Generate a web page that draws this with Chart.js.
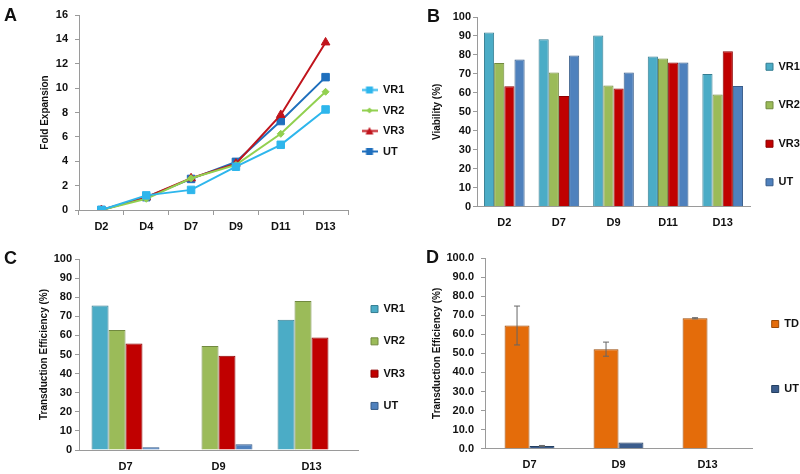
<!DOCTYPE html>
<html>
<head>
<meta charset="utf-8">
<script src="https://cdn.jsdelivr.net/npm/chart.js@4.4.0/dist/chart.umd.min.js"></script>
<style>
  body { margin: 0; background: #fff; }
  #wrap { position: relative; width: 800px; height: 474px; overflow: hidden; }
  canvas { position: absolute; }
  .tag { position: absolute; font: bold 18px 'Liberation Sans', Arial, sans-serif; color: #111; line-height: 18px; }
</style>
</head>
<body>
<div id="wrap">
  <canvas id="chartA" width="410" height="240" style="left:0;top:0"></canvas>
  <canvas id="chartB" width="400" height="240" style="left:400px;top:0"></canvas>
  <canvas id="chartC" width="410" height="239" style="left:0;top:235px"></canvas>
  <canvas id="chartD" width="400" height="239" style="left:400px;top:235px"></canvas>
  <div class="tag" style="left:4px;top:6px">A</div>
  <div class="tag" style="left:427px;top:7px">B</div>
  <div class="tag" style="left:4px;top:249px">C</div>
  <div class="tag" style="left:426px;top:248px">D</div>
</div>
<script>
// A - fold expansion
const daysA = ['D2', 'D4', 'D7', 'D9', 'D11', 'D13'];
const vr1Fold = [0, 1.2, 1.65, 3.55, 5.35, 8.25];
const vr2Fold = [0, 0.92, 2.6, 3.7, 6.25, 9.7];
const vr3Fold = [0, 1.05, 2.6, 3.8, 7.8, 13.75];
const utFold = [0, 1.05, 2.55, 3.95, 7.3, 10.9];

// B - viability
const daysB = ['D2', 'D7', 'D9', 'D11', 'D13'];
const vr1Via = [91.8, 88.3, 90.2, 79.2, 70];
const vr2Via = [75.8, 70.7, 63.9, 78.1, 59.2];
const vr3Via = [63.5, 58.4, 62.3, 76, 82];
const utVia = [77.6, 79.7, 70.7, 76, 63.6];

// C - transduction efficiency per run
const daysC = ['D7', 'D9', 'D13'];
const vr1Td = [75.7, null, 68.2];
const vr2Td = [62.8, 54.5, 78];
const vr3Td = [55.8, 49.3, 58.9];
const utTd = [1.4, 3, 0.3];

// D - mean transduction efficiency
const daysD = ['D7', 'D9', 'D13'];
const tdMean = [64.6, 52.2, 68.4];
const tdErr = [10.2, 3.7, 0.3];
const utMean = [1.4, 3.3, 0.3];
const utErr = [0.3, 0, 0];

const axisGray = '#9a9a9a';
Chart.defaults.font.family = "'Liberation Sans', Arial, sans-serif";
Chart.defaults.font.size = 11;
Chart.defaults.font.weight = 'bold';
Chart.defaults.color = '#111';

// move the legend block after layout (label padding also sets the row gap)
const nudge = {
  id: 'nudge',
  afterLayout(chart, args, opts) {
    const lg = chart.legend;
    lg.left += opts.dx || 0;
    lg.right = chart.width; // legend clips to its box, keep the text inside
    lg.top += opts.dy || 0; lg.bottom += opts.dy || 0;
  }
};

const errorBars = {
  id: 'errorBars',
  afterDatasetsDraw(chart) {
    const ctx = chart.ctx;
    const y = chart.scales.y;
    chart.data.datasets.forEach((ds, i) => {
      if (!ds.errors) return;
      chart.getDatasetMeta(i).data.forEach((bar, j) => {
        const e = ds.errors[j];
        if (!e) return;
        const top = y.getPixelForValue(ds.data[j] + e);
        const bot = y.getPixelForValue(ds.data[j] - e);
        ctx.save();
        ctx.strokeStyle = '#666';
        ctx.lineWidth = 1;
        ctx.beginPath();
        ctx.moveTo(bar.x, top); ctx.lineTo(bar.x, bot);
        ctx.moveTo(bar.x - 3, top); ctx.lineTo(bar.x + 3, top);
        ctx.moveTo(bar.x - 3, bot); ctx.lineTo(bar.x + 3, bot);
        ctx.stroke();
        ctx.restore();
      });
    });
  }
};

function yScale(title, max, step, width, pad, fmt) {
  const ticks = { stepSize: step, padding: pad };
  if (fmt) ticks.callback = fmt;
  return {
    min: 0, max: max,
    ticks: ticks,
    grid: { drawOnChartArea: false, tickLength: 4, color: axisGray },
    border: { color: axisGray },
    title: { display: true, text: title, font: { size: 10, weight: 'bold' }, padding: 0 },
    afterFit: s => { s.width = width; }
  };
}

function xScale(height, pad, marks) {
  return {
    offset: true,
    grid: { display: marks, drawOnChartArea: false, drawTicks: marks, tickLength: 5, offset: true, color: axisGray },
    border: { color: axisGray },
    ticks: { padding: pad, maxRotation: 0 },
    afterFit: s => { s.height = height; }
  };
}

function legendOpts(spacing, extra) {
  return {
    position: 'right',
    maxWidth: 30,
    labels: Object.assign({ padding: spacing - 11, boxWidth: 7, boxHeight: 7, color: '#111' }, extra || {})
  };
}

function lineIcon(color, shape) {
  const c = document.createElement('canvas');
  c.width = 16; c.height = 9;
  const g = c.getContext('2d');
  g.strokeStyle = color; g.fillStyle = color; g.lineWidth = 2;
  g.beginPath(); g.moveTo(0, 4.5); g.lineTo(16, 4.5); g.stroke();
  g.beginPath();
  if (shape === 'rect') g.rect(4.5, 1, 7, 7);
  else if (shape === 'rectRot') { g.moveTo(8, 1.5); g.lineTo(11, 4.5); g.lineTo(8, 7.5); g.lineTo(5, 4.5); g.closePath(); }
  else { g.moveTo(8, 0.5); g.lineTo(12, 8); g.lineTo(4, 8); g.closePath(); }
  g.fill();
  return c;
}

// A
const lineSets = [
  { label: 'VR1', data: vr1Fold, color: '#2eb6ec', shape: 'rect', r: 5.3 },
  { label: 'VR2', data: vr2Fold, color: '#92d050', shape: 'rectRot', r: 3.5 },
  { label: 'VR3', data: vr3Fold, color: '#c0141c', shape: 'triangle', r: 5 },
  { label: 'UT', data: utFold, color: '#1f6fbd', shape: 'rect', r: 5.3 }
];
const lineIcons = lineSets.map(s => lineIcon(s.color, s.shape));

new Chart(document.getElementById('chartA'), {
  type: 'line',
  data: {
    labels: daysA,
    datasets: lineSets.map(s => ({
      label: s.label, data: s.data,
      borderColor: s.color, backgroundColor: s.color,
      borderWidth: 2, pointStyle: s.shape, pointRadius: s.r,
      pointBackgroundColor: s.color, pointBorderColor: s.color, pointBorderWidth: 1
    }))
  },
  options: {
    responsive: false,
    animation: false,
    layout: { padding: { left: 39, top: 15, right: 32, bottom: 0 } },
    scales: {
      x: xScale(30, 5, true),
      y: yScale('Fold Expansion', 16, 2, 40, 7)
    },
    plugins: {
      legend: legendOpts(20.5, {
        usePointStyle: true,
        pointStyleWidth: 16,
        generateLabels: chart => {
          const items = Chart.defaults.plugins.legend.labels.generateLabels(chart);
          items.forEach((it, i) => { it.pointStyle = lineIcons[i]; });
          return items;
        }
      }),
      tooltip: { enabled: false },
      nudge: { dx: 4, dy: -6.75 }
    }
  },
  plugins: [nudge]
});

// B and C share the run colours
const runColors = {
  VR1: ['#4bacc6', '#357d91'],
  VR2: ['#9bbb59', '#71893f'],
  VR3: ['#c00000', '#8c0000'],
  UT: ['#4f81bd', '#385d8a']
};

function barSet(label, data) {
  return { label: label, data: data, backgroundColor: runColors[label][0], borderColor: runColors[label][1], borderWidth: 1 };
}

new Chart(document.getElementById('chartB'), {
  type: 'bar',
  data: {
    labels: daysB,
    datasets: [barSet('VR1', vr1Via), barSet('VR2', vr2Via), barSet('VR3', vr3Via), barSet('UT', utVia)]
  },
  options: {
    responsive: false,
    animation: false,
    categoryPercentage: 0.745,
    barPercentage: 1,
    layout: { padding: { left: 31, top: 17, right: 20, bottom: 0 } },
    scales: {
      x: xScale(33.3, 9.5, false),
      y: yScale('Viability (%)', 100, 10, 46, 2)
    },
    plugins: {
      legend: legendOpts(38.5),
      tooltip: { enabled: false },
      nudge: { dx: -11.5, dy: -4 }
    }
  },
  plugins: [nudge]
});

new Chart(document.getElementById('chartC'), {
  type: 'bar',
  data: {
    labels: daysC,
    datasets: [barSet('VR1', vr1Td), barSet('VR2', vr2Td), barSet('VR3', vr3Td), barSet('UT', utTd)]
  },
  options: {
    responsive: false,
    animation: false,
    categoryPercentage: 0.73,
    barPercentage: 1,
    layout: { padding: { left: 38, top: 24, right: 22, bottom: 0 } },
    scales: {
      x: xScale(24, 10.5, false),
      y: yScale('Transduction Efficiency (%)', 100, 10, 41, 3)
    },
    plugins: {
      legend: legendOpts(32.3),
      tooltip: { enabled: false },
      nudge: { dx: -8.3, dy: -9 }
    }
  },
  plugins: [nudge]
});

// D
new Chart(document.getElementById('chartD'), {
  type: 'bar',
  data: {
    labels: daysD,
    datasets: [
      { label: 'TD', data: tdMean, errors: tdErr, backgroundColor: '#e46c0a', borderColor: '#9b4a06', borderWidth: 1 },
      { label: 'UT', data: utMean, errors: utErr, backgroundColor: '#3b5c8c', borderColor: '#243f60', borderWidth: 1 }
    ]
  },
  options: {
    responsive: false,
    animation: false,
    categoryPercentage: 0.56,
    barPercentage: 1,
    layout: { padding: { left: 31, top: 23, right: 18, bottom: 0 } },
    scales: {
      x: xScale(25.3, 10, false),
      y: yScale('Transduction Efficiency (%)', 100, 10, 54, 7, v => v.toFixed(1))
    },
    plugins: {
      legend: legendOpts(65),
      tooltip: { enabled: false },
      nudge: { dx: -34.3, dy: -9.5 }
    }
  },
  plugins: [nudge, errorBars]
});
</script>
</body>
</html>
